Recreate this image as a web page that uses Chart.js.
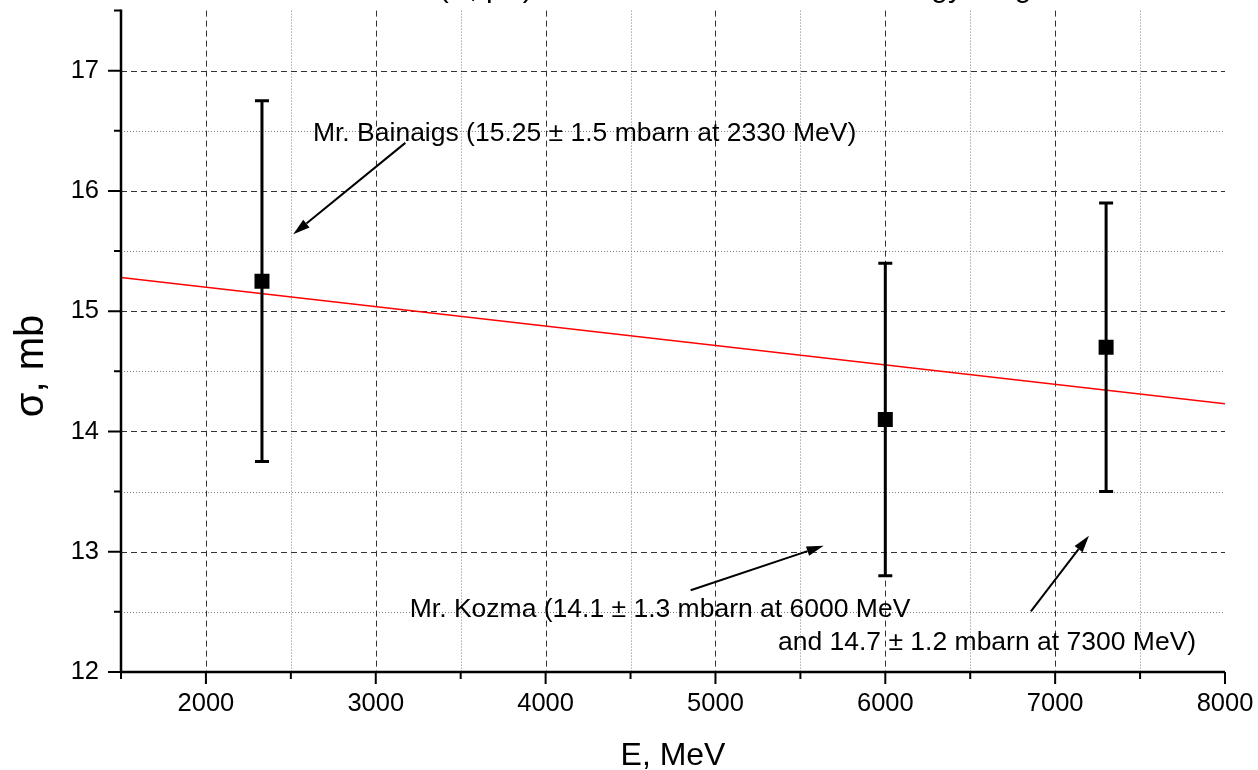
<!DOCTYPE html>
<html><head><meta charset="utf-8">
<script src="https://cdn.jsdelivr.net/npm/chart.js@4.4.1/dist/chart.umd.min.js"></script>
<style>html,body{margin:0;padding:0;background:#fff}#wrap{width:1258px;height:770px}</style>
</head><body><div id="wrap"><canvas id="c" width="1258" height="770"></canvas></div>
<script>
// measured points (E in MeV, sigma in mb)
const energy = [2330, 6000, 7300];
const sigma = [15.25, 14.1, 14.7];
const sigmaErr = [1.5, 1.3, 1.2];
// linear fit, read at the ends of the axis
const fitEnergy = [1500, 8000];
const fitSigma = [15.28, 14.23];
const xTicks = [2000, 3000, 4000, 5000, 6000, 7000, 8000];
const yTicks = [12, 13, 14, 15, 16, 17];

const FONT = "'Liberation Sans', Arial, sans-serif";

const notes = [
  {text: "Mr. Bainaigs (15.25 \u00b1 1.5 mbarn at 2330 MeV)", x: 2630, y: 16.48, align: "left"},
  {text: "Mr. Kozma (14.1 \u00b1 1.3 mbarn at 6000 MeV", x: 3200, y: 12.52, align: "left"},
  {text: "and 14.7 \u00b1 1.2 mbarn at 7300 MeV)", x: 7830, y: 12.24, align: "right"}
];
const arrows = [
  {from: [3174, 16.40], to: [2514, 15.64]},
  {from: [4854, 12.68], to: [5637, 13.05]},
  {from: [6857, 12.505], to: [7199, 13.134]}
];

const frame = {
  id: "frame",
  beforeDatasetsDraw(chart){
    const {ctx, chartArea: a, scales: {x, y}} = chart;
    ctx.save();
    ctx.lineWidth = 1;
    // minor grid, dotted
    ctx.strokeStyle = "#808080"; ctx.setLineDash([1, 2]);
    for (let v = 2500; v < 8000; v += 1000){ const p = Math.round(x.getPixelForValue(v)) + .5; ctx.beginPath(); ctx.moveTo(p, a.top); ctx.lineTo(p, a.bottom); ctx.stroke(); }
    for (let v = 12.5; v < 17.5; v += 1){ const p = Math.round(y.getPixelForValue(v)) + .5; ctx.beginPath(); ctx.moveTo(a.left, p); ctx.lineTo(a.right, p); ctx.stroke(); }
    // major grid, dashed
    ctx.strokeStyle = "#333"; ctx.setLineDash([6, 4]);
    xTicks.forEach(v=>{ if (v >= 8000) return; const p = Math.round(x.getPixelForValue(v)) + .5; ctx.beginPath(); ctx.moveTo(p, a.top); ctx.lineTo(p, a.bottom); ctx.stroke(); });
    yTicks.forEach(v=>{ if (v <= 12) return; const p = Math.round(y.getPixelForValue(v)) + .5; ctx.beginPath(); ctx.moveTo(a.left, p); ctx.lineTo(a.right, p); ctx.stroke(); });
    ctx.restore();
  },
  beforeDatasetDraw(chart, args){
    if (args.index !== 0) return;
    const {ctx, scales: {x, y}} = chart;
    ctx.save();
    ctx.strokeStyle = "#000"; ctx.lineWidth = 3;
    energy.forEach((e, i)=>{
      const px = x.getPixelForValue(e);
      const top = y.getPixelForValue(sigma[i] + sigmaErr[i]);
      const bot = y.getPixelForValue(sigma[i] - sigmaErr[i]);
      ctx.beginPath();
      ctx.moveTo(px, top); ctx.lineTo(px, bot);
      ctx.moveTo(px - 7, top); ctx.lineTo(px + 7, top);
      ctx.moveTo(px - 7, bot); ctx.lineTo(px + 7, bot);
      ctx.stroke();
    });
    ctx.restore();
  },
  afterDatasetsDraw(chart){
    const {ctx, chartArea: a, scales: {x, y}} = chart;
    ctx.save();
    ctx.strokeStyle = "#000"; ctx.fillStyle = "#000";
    // axes
    ctx.lineWidth = 2.5;
    ctx.beginPath();
    ctx.moveTo(a.left, a.top - 1); ctx.lineTo(a.left, a.bottom); ctx.lineTo(a.right, a.bottom);
    ctx.stroke();
    ctx.lineWidth = 2;
    ctx.beginPath();
    for (let v = 1500; v <= 8000; v += 500){
      const p = x.getPixelForValue(v), len = v % 1000 ? 7 : 12;
      ctx.moveTo(p, a.bottom); ctx.lineTo(p, a.bottom + len);
    }
    for (let v = 12; v <= 17.5; v += .5){
      const p = y.getPixelForValue(v), len = v % 1 ? 7 : 13;
      ctx.moveTo(a.left, p); ctx.lineTo(a.left - len, p);
    }
    ctx.stroke();
    // arrows
    ctx.lineWidth = 2;
    arrows.forEach(ar=>{
      const x0 = x.getPixelForValue(ar.from[0]), y0 = y.getPixelForValue(ar.from[1]);
      const x1 = x.getPixelForValue(ar.to[0]), y1 = y.getPixelForValue(ar.to[1]);
      const ang = Math.atan2(y1 - y0, x1 - x0), hl = 17, hw = 5;
      const bx = x1 - hl * Math.cos(ang), by = y1 - hl * Math.sin(ang);
      ctx.beginPath(); ctx.moveTo(x0, y0); ctx.lineTo(bx, by); ctx.stroke();
      ctx.beginPath();
      ctx.moveTo(x1, y1);
      ctx.lineTo(bx + hw * Math.sin(ang), by - hw * Math.cos(ang));
      ctx.lineTo(bx - hw * Math.sin(ang), by + hw * Math.cos(ang));
      ctx.closePath(); ctx.fill();
    });
    // notes
    ctx.font = "26.5px " + FONT; ctx.textBaseline = "middle";
    notes.forEach(n=>{
      ctx.textAlign = n.align;
      ctx.fillText(n.text, x.getPixelForValue(n.x), y.getPixelForValue(n.y));
    });
    // axis titles
    ctx.textBaseline = "alphabetic"; ctx.textAlign = "center";
    ctx.font = "32px " + FONT;
    ctx.fillText("E, MeV", (a.left + a.right) / 2, 765);
    ctx.save();
    ctx.translate(43, 366); ctx.rotate(-Math.PI / 2);
    ctx.font = "40px " + FONT;
    ctx.fillText("\u03c3, mb", 0, 0);
    ctx.restore();
    // title, cut by the top edge of the picture
    ctx.font = "30px " + FONT; ctx.textAlign = "right";
    ctx.fillText("\u03c3(\u03c0, pX) total cross section in the energy range", 1048, -3);
    ctx.restore();
  }
};

const noPad = s=>{ s.paddingLeft = s.paddingRight = s.paddingTop = s.paddingBottom = 0; };

new Chart(document.getElementById("c"), {
  type: "scatter",
  data: {
    datasets: [
      {label: "data", data: energy.map((e, i)=>({x: e, y: sigma[i]})),
       pointStyle: "rect", pointRadius: 10.6, backgroundColor: "#000", borderColor: "#000", borderWidth: 0},
      {label: "fit", data: fitEnergy.map((e, i)=>({x: e, y: fitSigma[i]})),
       showLine: true, pointRadius: 0, borderColor: "#ff0000", borderWidth: 1.5}
    ]
  },
  options: {
    responsive: false, animation: false, devicePixelRatio: 1,
    layout: {padding: {left: 0, top: 6, right: 33, bottom: 0}},
    plugins: {legend: {display: false}, tooltip: {enabled: false}},
    scales: {
      x: {
        type: "linear", min: 1500, max: 8000,
        afterBuildTicks: s=>{ s.ticks = xTicks.map(v=>({value: v})); },
        afterFit: s=>{ s.height = 98; noPad(s); },
        grid: {display: false, drawTicks: false}, border: {display: false},
        ticks: {padding: 17, color: "#000", font: {family: FONT, size: 25.5}, callback: v=>String(v)}
      },
      y: {
        type: "linear", min: 12, max: 17.5,
        afterBuildTicks: s=>{ s.ticks = yTicks.map(v=>({value: v})); },
        afterFit: s=>{ s.width = 121; noPad(s); },
        grid: {display: false, drawTicks: false}, border: {display: false},
        ticks: {padding: 22, color: "#000", font: {family: FONT, size: 25.5}, callback: v=>String(v)}
      }
    }
  },
  plugins: [frame]
});
</script>
</body></html>
